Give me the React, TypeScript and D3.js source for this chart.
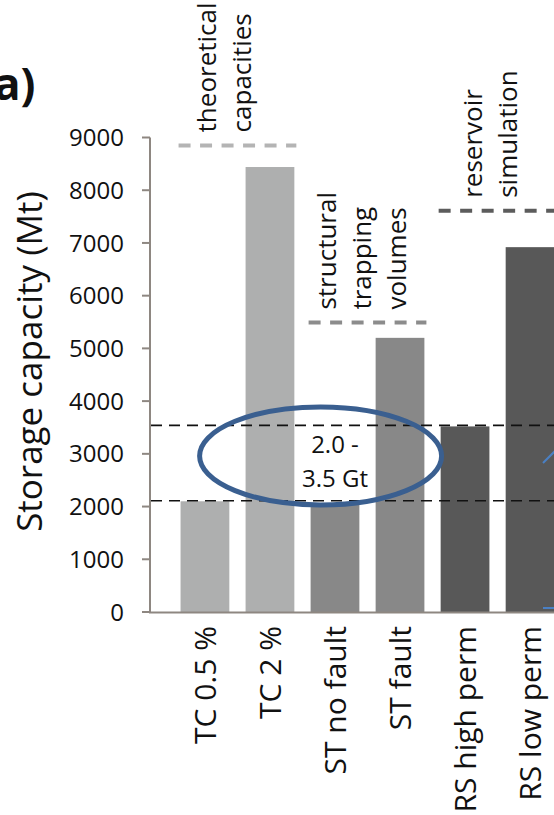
import React from "react";
import * as d3 from "d3";

const categories = ["TC 0.5 %", "TC 2 %", "ST no fault", "ST fault", "RS high perm", "RS low perm"];
const values = [2100, 8440, 2060, 5200, 3520, 6920];
const groupOf = ["TC", "TC", "ST", "ST", "RS", "RS"];
const yTicks = [0, 1000, 2000, 3000, 4000, 5000, 6000, 7000, 8000, 9000];
const rangeLines = [2110, 3540];
const rangeLabel = ["2.0 -", "3.5 Gt"];
const rangeCenterValue = 2960;
const groupKeys = ["TC", "ST", "RS"];
const groupLabels = [["theoretical", "capacities"], ["structural", "trapping", "volumes"], ["reservoir", "simulation"]];
const groupLevels = [8850, 5490, 7610];
const yTitle = "Storage capacity (Mt)";
const panelLabel = "a)";

const W = 554;
const H = 815;
const FONT = "'Open Sans', 'Noto Sans', sans-serif";
const barColor: Record<string, string> = { TC: "#aeafaf", ST: "#888888", RS: "#585858" };
const dashColor: Record<string, string> = { TC: "#b4b4b4", ST: "#8c8c8c", RS: "#5c5c5c" };
const groupTextDx = [-12, -4, -6];
const axisColor = "#8e8781";

export default function App() {
  const x = d3.scaleBand<string>().domain(categories).range([150, 585]).paddingInner(0.25).paddingOuter(0.47);
  const y = d3.scaleLinear().domain([0, 9000]).range([612, 137.5]);
  const bw = x.bandwidth();
  const x0 = 150;

  const groups = groupKeys.map((g, gi) => {
    const idx = categories.filter((_, i) => groupOf[i] === g);
    const first = x(idx[0])!;
    const last = x(idx[idx.length - 1])! + bw;
    return { g, gi, first, last, center: (first + last) / 2 };
  });

  const cx = x("ST no fault")! + 10;
  const cy = y(rangeCenterValue);
  const textX = x("ST no fault")! + bw / 2;

  return (
    <svg width={W} height={H} style={{ position: "absolute", left: 0, top: 0, background: "#fff" }} fontFamily={FONT}>
      <rect x={0} y={0} width={W} height={H} fill="#fff" />
      {/* panel label (cut at the left edge, as in the source figure) */}
      <text x={-6} y={100} fontSize={44} fontWeight="bold" fill="#111">{panelLabel}</text>

      {/* bars */}
      {categories.map((c, i) => (
        <rect key={c} x={x(c)} y={y(values[i])} width={bw} height={y(0) - y(values[i])} fill={barColor[groupOf[i]]} />
      ))}

      {/* axes */}
      <line x1={x0} x2={x0} y1={y(9000)} y2={y(0) + 1} stroke={axisColor} strokeWidth={2} />
      <line x1={x0 - 1} x2={W} y1={y(0) + 0.5} y2={y(0) + 0.5} stroke={axisColor} strokeWidth={2} />
      {yTicks.map((t) => (
        <g key={t}>
          <line x1={x0 - 8} x2={x0} y1={y(t)} y2={y(t)} stroke={axisColor} strokeWidth={2} />
          <text x={124} y={y(t)} dy="0.36em" textAnchor="end" fontSize={24} fill="#111">{t}</text>
        </g>
      ))}

      {/* y title */}
      <text transform={`translate(30, ${y(4750)}) rotate(-90)`} dy="0.35em" textAnchor="middle" fontSize={35} fill="#111">{yTitle}</text>

      {/* x labels */}
      {categories.map((c) => (
        <text key={c} transform={`translate(${x(c)! + bw / 2}, 626) rotate(-90)`} dy="0.36em" textAnchor="end" fontSize={30} fill="#111">{c}</text>
      ))}

      {/* range dashed lines */}
      {rangeLines.map((v) => (
        <line key={v} x1={x0 + 1} x2={W} y1={y(v)} y2={y(v)} stroke="#111" strokeWidth={1.6} strokeDasharray="11 7" />
      ))}

      {/* group levels and labels */}
      {groups.map(({ g, gi, first, last, center }) => {
        const ly = y(groupLevels[gi]);
        const lines = groupLabels[gi];
        const n = lines.length;
        return (
          <g key={g}>
            <line x1={first - 2} x2={last + 2} y1={ly} y2={ly} stroke={dashColor[g]} strokeWidth={4} strokeDasharray="12 9.5" />
            {lines.map((t, li) => (
              <text key={t} transform={`translate(${center + groupTextDx[gi] + (li - (n - 1) / 2) * 35}, ${ly - 13}) rotate(-90)`} dy="0.3em" textAnchor="start" fontSize={26} fill="#111">{t}</text>
            ))}
          </g>
        );
      })}

      {/* range ellipse */}
      <ellipse cx={cx} cy={cy} rx={121} ry={49} fill="none" stroke="#3a5f90" strokeWidth={5} />
      <text x={textX} y={y(rangeCenterValue) - 3} textAnchor="middle" fontSize={24} fill="#111">{rangeLabel[0]}</text>
      <text x={textX} y={y(rangeCenterValue) + 31} textAnchor="middle" fontSize={24} fill="#111">{rangeLabel[1]}</text>

      {/* partial blue annotation at right edge */}
      <line x1={543} y1={463} x2={556} y2={450} stroke="#4a80c4" strokeWidth={2} />
      <line x1={543} y1={y(0) - 4} x2={556} y2={y(0) - 4} stroke="#4a80c4" strokeWidth={2} />
    </svg>
  );
}
